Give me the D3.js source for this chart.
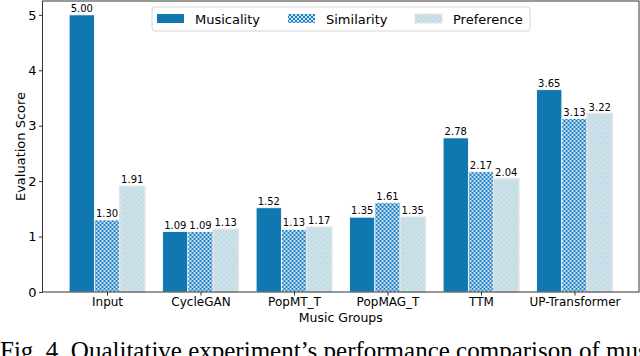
<!DOCTYPE html>
<html>
<head>
<meta charset="utf-8">
<script src="https://cdn.jsdelivr.net/npm/d3@7/dist/d3.min.js"></script>
<style>
  body { margin: 0; background: #fff; }
  svg { display: block; }
</style>
</head>
<body>
<div id="chart"></div>
<script>
// chart data
var groups = ["Input", "CycleGAN", "PopMT_T", "PopMAG_T", "TTM", "UP-Transformer"];
var seriesNames = ["Musicality", "Similarity", "Preference"];
var musicality = [5.00, 1.09, 1.52, 1.35, 2.78, 3.65];
var similarity = [1.30, 1.09, 1.13, 1.61, 2.17, 3.13];
var preference = [1.91, 1.13, 1.17, 1.35, 2.04, 3.22];
var yTicks = [0, 1, 2, 3, 4, 5];

var W = 640, H = 356;
var margin = {top: 1, right: 1, bottom: 64, left: 42.5};
var width = W - margin.left - margin.right,
    height = H - margin.top - margin.bottom;

var svg = d3.select("#chart").append("svg")
    .attr("width", W).attr("height", H)
    .style("font-family", "'DejaVu Sans', sans-serif");

// hatch patterns
var defs = svg.append("defs");
var pSim = defs.append("pattern").attr("id", "simHatch")
    .attr("patternUnits", "userSpaceOnUse").attr("width", 4).attr("height", 4);
pSim.append("rect").attr("width", 4).attr("height", 4).attr("fill", "#1f80c2");
pSim.append("path").attr("d", "M0,0L4,4M4,0L0,4")
    .attr("stroke", "#ffffff").attr("stroke-width", 0.9).attr("opacity", 0.85);

var pPref = defs.append("pattern").attr("id", "prefHatch")
    .attr("patternUnits", "userSpaceOnUse").attr("width", 5).attr("height", 5);
pPref.append("rect").attr("width", 5).attr("height", 5).attr("fill", "#bedeea");
pPref.append("circle").attr("cx", 1.5).attr("cy", 1.5).attr("r", 1.1).attr("fill", "#e2e2e2");
pPref.append("circle").attr("cx", 4).attr("cy", 4).attr("r", 1.1).attr("fill", "#e2e2e2");

var fills = ["#1077b0", "url(#simHatch)", "url(#prefHatch)"];
var strokes = ["#ffffff", "#ffffff", "#e4e4e4"];

var g = svg.append("g").attr("transform", "translate(" + margin.left + "," + margin.top + ")");

// scales
var x = d3.scaleLinear().domain([-0.69, 5.69]).range([0, width]);
var y = d3.scaleLinear().domain([0, 5.25]).range([height, 0]);
var barW = 0.27;

var data = [musicality, similarity, preference];

// bars
data.forEach(function(vals, s) {
  var off = (s - 1) * barW;
  g.selectAll(".bar" + s)
    .data(vals)
    .enter().append("rect")
    .attr("x", function(d, i) { return x(i + off - barW / 2); })
    .attr("width", x(barW) - x(0))
    .attr("y", function(d) { return y(d); })
    .attr("height", function(d) { return y(0) - y(d); })
    .attr("fill", fills[s])
    .attr("stroke", strokes[s])
    .attr("stroke-width", s == 2 ? 1.5 : 0.8);

  g.selectAll(".lab" + s)
    .data(vals)
    .enter().append("text")
    .attr("x", function(d, i) { return x(i + off); })
    .attr("y", function(d) { return y(d) - 3; })
    .attr("text-anchor", "middle")
    .style("font-size", "10px")
    .text(function(d) { return d.toFixed(2); });
});

// axes
var yAxis = g.append("g").call(d3.axisLeft(y).tickValues(yTicks).tickSize(3.5).tickFormat(d3.format("d")));
var xAxis = g.append("g").attr("transform", "translate(0," + height + ")")
    .call(d3.axisBottom(x).tickValues(d3.range(groups.length)).tickSize(3.5)
      .tickFormat(function(d) { return groups[d]; }));
[yAxis, xAxis].forEach(function(a) {
  a.select(".domain").remove();
  a.selectAll("line").attr("stroke", "#333");
  a.selectAll("text").style("font-family", "'DejaVu Sans', sans-serif").attr("fill", "#000");
});
yAxis.selectAll("text").style("font-size", "13px").attr("x", -6);
xAxis.selectAll("text").style("font-size", "12px").attr("y", 5);

// frame
g.append("rect").attr("width", width).attr("height", height)
  .attr("fill", "none").attr("stroke", "#333").attr("stroke-width", 1);

// axis titles
svg.append("text")
  .attr("transform", "translate(20," + (margin.top + height / 2) + ") rotate(-90)")
  .attr("text-anchor", "middle").attr("dy", "0.35em")
  .style("font-size", "13px")
  .text("Evaluation Score");
svg.append("text")
  .attr("x", margin.left + width / 2).attr("y", 322)
  .attr("text-anchor", "middle")
  .style("font-size", "12.5px")
  .text("Music Groups");

// legend
var leg = svg.append("g").attr("transform", "translate(152,7)");
leg.append("rect").attr("width", 378).attr("height", 24).attr("rx", 3)
  .attr("fill", "#fff").attr("fill-opacity", 0.8).attr("stroke", "#d6d6d6");
var legX = [5, 136, 263];
seriesNames.forEach(function(name, s) {
  leg.append("rect").attr("x", legX[s]).attr("y", 7).attr("width", 27).attr("height", 9)
    .attr("fill", fills[s]).attr("stroke", s == 2 ? "#e4e4e4" : "none");
  leg.append("text").attr("x", legX[s] + 38).attr("y", 16.5)
    .style("font-size", "13px").text(name);
});

// figure caption (cut by the image edge, as in the source figure)
svg.append("text")
  .attr("x", 0).attr("y", 359)
  .style("font-family", "'Liberation Serif', 'Times New Roman', serif")
  .style("font-size", "25px")
  .text("Fig. 4. Qualitative experiment\u2019s performance comparison of music");
</script>
</body>
</html>
